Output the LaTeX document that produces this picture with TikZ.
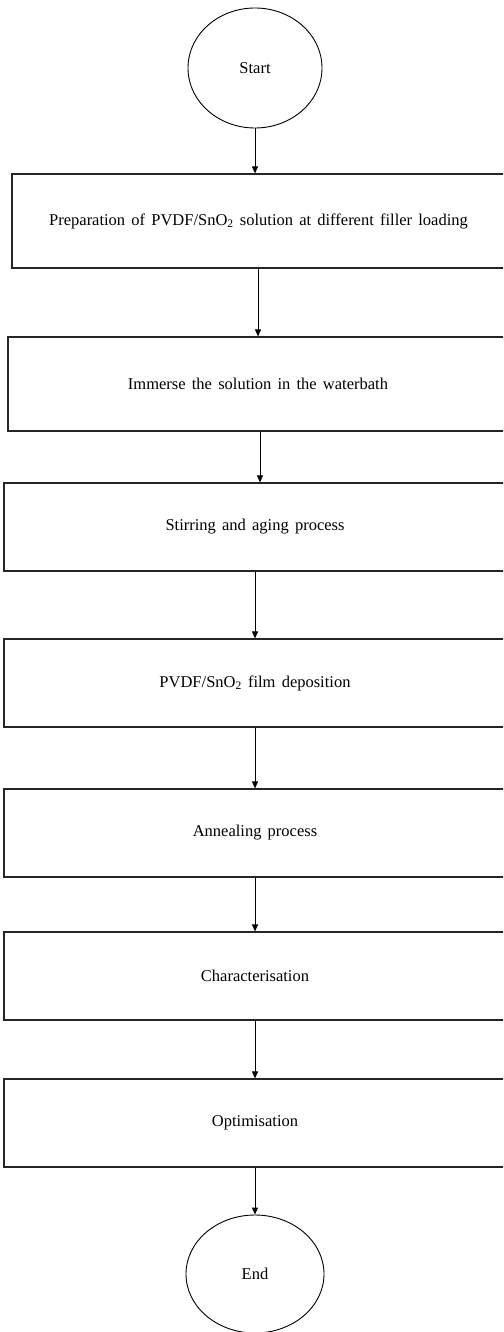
\documentclass[tikz,border=0pt]{standalone}
\usepackage{fontspec}
\setmainfont{Liberation Serif}[WordSpace=1.5]
\usetikzlibrary{shapes.geometric,arrows.meta}
\begin{document}
\begin{tikzpicture}[x=1pt,y=-1pt,
  every node/.style={font=\fontsize{16.5}{20}\selectfont},
  terminal/.style={draw=black,line width=0.9pt,ellipse,inner sep=0pt},
  stepbox/.style={draw=black!85,line width=1.2pt,rectangle,inner sep=0pt,minimum height=#1},
  arr/.style={draw=black,line width=0.9pt,-{Triangle[width=6pt,length=7pt]}}]
\useasboundingbox (0,0) rectangle (503,1332);
\clip (0,0) rectangle (503,1332);
\fill[white] (0,0) rectangle (503,1332);
\node[terminal,minimum width=134pt,minimum height=120pt] (start) at (255,68) {Start};
\node[stepbox=94pt,minimum width=493pt] (b1) at (258.5,221) {Preparation of PVDF/SnO\textsubscript{2} solution at different filler loading};
\node[stepbox=94pt,minimum width=500pt] (b2) at (258,384) {Immerse the solution in the waterbath};
\node[stepbox=88pt,minimum width=502pt] (b3) at (255,527) {Stirring and aging process};
\node[stepbox=88pt,minimum width=502pt] (b4) at (255,683) {PVDF/SnO\textsubscript{2} film deposition};
\node[stepbox=88pt,minimum width=502pt] (b5) at (255,833) {Annealing process};
\node[stepbox=88pt,minimum width=502pt] (b6) at (255,976) {Characterisation};
\node[stepbox=88pt,minimum width=502pt] (b7) at (255,1123) {Optimisation};
\node[terminal,minimum width=138pt,minimum height=118pt] (end) at (255,1274) {End};
\draw[arr] (start.south) -- (start.south |- b1.north);
\draw[arr] (b1.south -| b2.north) -- (b2.north);
\draw[arr] ([xshift=2pt]b2.south) -- ([xshift=2pt]b2.south |- b3.north);
\draw[arr] (b3.south) -- (b4.north);
\draw[arr] (b4.south) -- (b5.north);
\draw[arr] (b5.south) -- (b6.north);
\draw[arr] (b6.south) -- (b7.north);
\draw[arr] (b7.south) -- (end.north);
\end{tikzpicture}
\end{document}
